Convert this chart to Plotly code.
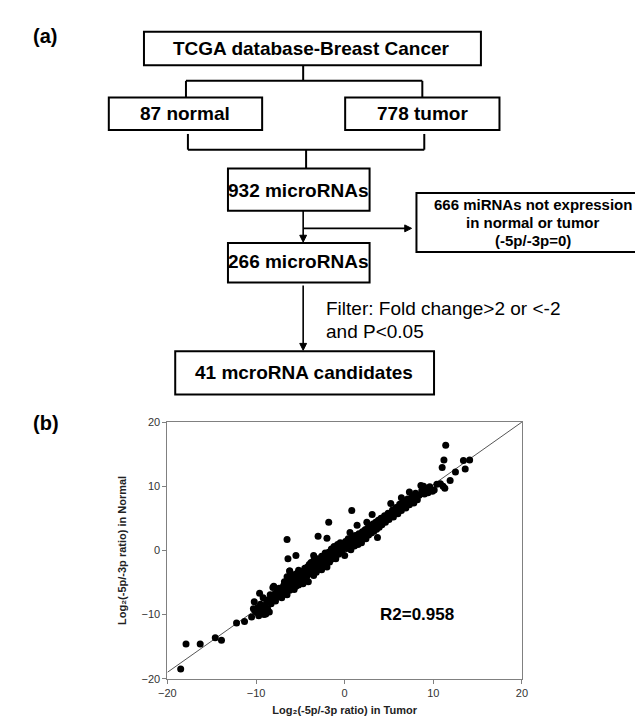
import plotly.graph_objects as go

# ---------------- data ----------------
tumor_x = [
    -18.5, -17.9, -16.3, -14.6, -13.9, -12.2, -11.3, -10.5, -10.3, -9.9, -9.6, -10.2, -9.1, -8.5, -8.1, -8.9,
    -10.1, -9.8, -9.7, -9.5, -9.3, -9.2, -9.0, -8.8, -8.7, -8.6, -8.4, -8.3, -8.1, -8.0, -7.9, -7.8, -7.6, -7.5,
    -7.4, -7.3, -7.1, -7.0,
    -6.9, -6.8, -6.8, -6.7, -6.6, -6.5, -6.5, -6.4, -6.3, -6.2, -6.2, -6.1, -6.0, -6.0, -5.9, -5.8, -5.8, -5.7,
    -5.6, -5.5, -5.5, -5.4, -5.3, -5.2, -5.2, -5.1, -5.0, -5.0, -4.9, -4.8, -4.8, -4.7, -4.6, -4.5, -4.5, -4.4,
    -4.3, -4.2, -4.2, -4.1, -4.0, -4.0,
    -3.9, -3.8, -3.8, -3.7, -3.6, -3.5, -3.5, -3.4, -3.3, -3.2, -3.1, -3.0, -3.0, -2.9, -2.8, -2.7, -2.6, -2.6,
    -2.5, -2.4, -2.3, -2.2, -2.2, -2.1, -2.0, -2.0, -1.9, -1.8, -1.7, -1.6, -1.5, -1.5, -1.4, -1.3, -1.2, -1.1,
    -1.0, -1.0, -0.9, -0.8, -0.7, -0.6, -0.5, -0.5, -0.4, -0.3, -0.2, -0.1, 0.0,
    0.1, 0.2, 0.3, 0.4, 0.5, 0.6, 0.7, 0.8, 0.9, 1.0, 1.1, 1.2, 1.3, 1.4, 1.5, 1.6, 1.7, 1.8, 1.9, 2.0, 2.1, 2.2,
    2.3, 2.4, 2.5, 2.6, 2.7, 2.8, 2.9, 3.0, 3.1, 3.2, 3.3, 3.4, 3.5, 3.6, 3.7, 3.8, 3.9, 4.0,
    4.1, 4.2, 4.4, 4.5, 4.6, 4.8, 4.9, 5.0, 5.2, 5.3, 5.4, 5.5, 5.7, 5.8, 6.0, 6.1, 6.2, 6.4, 6.4, 6.6, 6.7, 6.9,
    7.0, 7.1, 7.3, 7.3, 7.5, 7.6, 7.8, 7.9, 8.0,
    8.2, 8.4, 8.6, 8.7, 8.9, 9.0, 9.2, 9.4, 9.6, 9.9, 10.1, 10.4, 10.8, 11.1, 11.3,
    11.4, 11.2, 11.0, 13.4, 14.1, 13.6, 12.5, 11.9,
    -6.5, -3.0, -2.0, -6.4, -5.5, -3.5, -1.8, 0.8, 3.1, 1.4, 2.5, 3.7, 0.6, -6.2, -6.1, -4.8,
]
normal_y = [
    -18.5, -14.6, -14.6, -13.6, -14.0, -11.3, -11.1, -10.4, -9.1, -9.7, -6.7, -8.0, -10.0, -9.6, -5.8, -9.9,
    -9.5, -8.9, -10.2, -8.4, -9.3, -7.4, -8.6, -8.0, -9.1, -7.7, -6.9, -8.3, -7.5, -5.6, -6.8, -7.9, -6.4, -7.2,
    -5.9, -6.8, -7.4, -6.1,
    -5.5, -6.6, -4.9, -6.0, -5.2, -6.9, -4.1, -5.7, -4.6, -6.2, -3.2, -5.0, -4.1, -5.8, -4.5, -5.3, -3.8, -6.1,
    -4.8, -4.2, -5.6, -3.6, -4.9, -5.4, -3.1, -4.3, -3.8, -5.0, -4.5, -3.3, -4.1, -5.2, -3.9, -2.8, -4.6, -3.5,
    -4.2, -2.6, -3.8, -4.9, -3.1, -2.2,
    -3.6, -2.7, -1.9, -3.3, -2.4, -3.9, -1.6, -2.9, -2.1, -3.4, -1.3, -2.5, -1.9, -2.9, -1.5, -2.2, -0.9, -3.0,
    -1.7, -2.4, -1.1, -0.4, -2.0, -1.5, -0.8, -2.6, -1.2, -0.3, -1.8, -0.7, 0.2, -1.4, -0.2, -1.0, 0.6, -0.5,
    -1.3, 0.3, -0.1, 0.9, -0.6, 0.4, 1.2, -0.3, 0.7, 0.0, 1.0, 0.5, -0.8,
    1.4, 0.3, 0.9, 1.8, 0.6, 1.2, 0.1, 2.0, 1.0, 1.6, 0.7, 2.3, 1.3, 1.9, 0.9, 2.6, 1.7, 2.2, 1.2, 2.9, 2.0, 2.5,
    3.2, 1.8, 2.8, 3.5, 2.4, 3.1, 3.8, 2.7, 3.4, 4.1, 3.0, 3.7, 4.4, 3.3, 4.0, 4.7, 3.6, 4.3,
    5.0, 4.0, 4.7, 5.4, 4.4, 5.1, 5.8, 4.8, 7.3, 5.6, 6.3, 5.2, 6.0, 6.7, 5.7, 6.5, 7.2, 8.2, 6.2, 6.9, 7.6, 6.6,
    7.3, 8.0, 9.1, 7.1, 7.8, 8.5, 7.4, 8.2, 8.9,
    7.9, 8.6, 10.1, 9.3, 10.0, 8.8, 9.6, 9.0, 9.9, 9.2, 9.4, 10.3, 10.4, 10.0, 9.7,
    16.4, 14.1, 12.9, 14.0, 14.1, 12.7, 12.2, 10.9,
    1.7, 2.2, 1.9, -1.3, -0.8, -0.8, 4.4, 6.2, 5.6, 3.9, 4.4, 2.0, 2.8, -3.2, -4.1, -4.1,
]
trend_x = [-20, 20]
trend_y = [-19.0, 20.0]
r2_label = "R2=0.958"
axis_ticks = [-20, -10, 0, 10, 20]
x_title = "Log\u2082(-5p/-3p ratio) in Tumor"
y_title = "Log\u2082(-5p/-3p ratio) in Normal"

# flowchart texts
box_texts = ["TCGA database-Breast Cancer", "87 normal", "778 tumor", "932 microRNAs",
             "266 microRNAs", "41 mcroRNA candidates"]
side_lines = ["666 miRNAs not expression", "in normal or tumor", "(-5p/-3p=0)"]
filter_lines = ["Filter: Fold change>2 or <-2", "and P<0.05"]

W, H = 643, 718
FONT = "Liberation Sans, Arial, DejaVu Sans, sans-serif"


def px(x):
    return x / W


def py(y):
    return 1 - y / H


fig = go.Figure()

# ---------------- scatter panel (b) ----------------
fig.add_trace(go.Scatter(x=trend_x, y=trend_y, mode="lines",
                         line=dict(color="#555555", width=1), hoverinfo="skip",
                         showlegend=False))
fig.add_trace(go.Scatter(x=tumor_x, y=normal_y, mode="markers",
                         marker=dict(color="black", size=7, line=dict(width=0)),
                         showlegend=False))

axis_common = dict(range=[-20, 20], tickvals=axis_ticks, ticks="outside", ticklen=4,
                   tickcolor="#808080", showline=True, linecolor="#808080", linewidth=1,
                   mirror=True, showgrid=False, zeroline=False,
                   tickfont=dict(family=FONT, size=11, color="#333333"))

fig.update_layout(
    width=W, height=H,
    margin=dict(l=0, r=0, t=0, b=0),
    paper_bgcolor="white", plot_bgcolor="rgba(0,0,0,0)",
    xaxis=dict(domain=[px(154), px(517)], anchor="y",
               title=dict(text="<b>" + x_title + "</b>", standoff=8,
                          font=dict(family=FONT, size=11, color="#222222")),
               **axis_common),
    yaxis=dict(domain=[py(676), py(415)], anchor="x",
               title=dict(text="<b>" + y_title + "</b>", standoff=12,
                          font=dict(family=FONT, size=11, color="#222222")),
               **axis_common),
    showlegend=False,
)

ann = []
# R2 text in data coordinates
ann.append(dict(x=8.2, y=-10.0, xref="x", yref="y", text="<b>" + r2_label + "</b>",
                showarrow=False, font=dict(family=FONT, size=17, color="black")))

# ---------------- flowchart panel (a) ----------------
shapes = []


def box(x0, y0, x1, y1):
    shapes.append(dict(type="rect", xref="paper", yref="paper",
                       x0=px(x0), y0=py(y0), x1=px(x1), y1=py(y1),
                       line=dict(color="black", width=2), fillcolor="white"))


def seg(x0, y0, x1, y1, w=2):
    shapes.append(dict(type="line", xref="paper", yref="paper",
                       x0=px(x0), y0=py(y0), x1=px(x1), y1=py(y1),
                       line=dict(color="black", width=w)))


def tri(points):
    d = "M " + " L ".join(f"{px(a):.5f},{py(b):.5f}" for a, b in points) + " Z"
    shapes.append(dict(type="path", xref="paper", yref="paper", path=d,
                       fillcolor="black", line=dict(color="black", width=1)))


def label(x, y, text, size=19, bold=True, xanchor="center"):
    t = "<b>" + text + "</b>" if bold else text
    ann.append(dict(x=px(x), y=py(y), xref="paper", yref="paper", text=t, showarrow=False,
                    xanchor=xanchor, yanchor="middle",
                    font=dict(family=FONT, size=size, color="black")))


def arrow_down(x, y0, y1):
    seg(x, y0, x, y1 - 6, w=1.6)
    tri([(x - 3.5, y1 - 7), (x + 3.5, y1 - 7), (x, y1)])


def arrow_right(x0, x1, y):
    seg(x0, y, x1 - 6, y, w=1.6)
    tri([(x1 - 7, y - 3.5), (x1 - 7, y + 3.5), (x1, y)])


box(130, 18, 475, 52)
box(94, 85, 251, 118)
box(336, 85, 494, 118)
box(216, 157, 361, 200)
box(409, 182, 641, 242)
box(216, 233, 361, 273)
box(162, 343, 427, 387)

seg(293, 52, 293, 68)
seg(173, 68, 415, 68)
seg(173, 68, 173, 85)
seg(415, 68, 415, 85)
seg(175, 122, 175, 138)
seg(417, 122, 417, 138)
seg(175, 138, 417, 138)
seg(296, 138, 296, 157)

arrow_down(293, 200, 232)
arrow_right(293, 404, 218)
arrow_down(293, 276, 342)

label(302, 35, box_texts[0])
label(172, 101, box_texts[1])
label(415, 101, box_texts[2])
label(288, 179, box_texts[3])
label(288, 252, box_texts[4])
label(294, 365, box_texts[5])
for yy, t in zip([194, 212, 230], side_lines):
    label(528, yy, t, size=15)
for yy, t in zip([300, 323], filter_lines):
    label(314, yy, t, size=19, bold=False, xanchor="left")

label(14, 22, "(a)", size=20, xanchor="left")
label(14, 416, "(b)", size=20, xanchor="left")

fig.update_layout(shapes=shapes, annotations=ann)
fig.write_html("out.html")
